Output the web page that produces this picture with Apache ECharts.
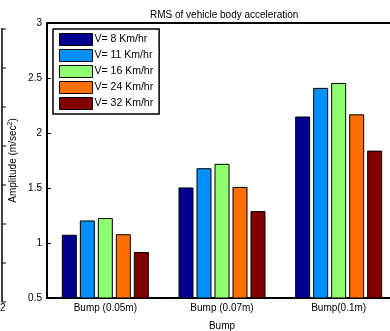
<!DOCTYPE html>
<html>
<head>
<meta charset="utf-8">
<script src="https://cdn.jsdelivr.net/npm/echarts@6/dist/echarts.min.js"></script>
<style>
html,body{margin:0;padding:0;background:#fff;}
#chart{width:390px;height:331px;}
</style>
</head>
<body>
<div id="chart"></div>
<script>
// categories and series
var bumps = ['Bump (0.05m)', 'Bump (0.07m)', 'Bump(0.1m)'];
var speeds = ['V= 8 Km/hr', 'V= 11 Km/hr', 'V= 16 Km/hr', 'V= 24 Km/hr', 'V= 32 Km/hr'];
var v8  = [1.075, 1.505, 2.15];
var v11 = [1.205, 1.68, 2.41];
var v16 = [1.227, 1.72, 2.455];
var v24 = [1.08, 1.51, 2.17];
var v32 = [0.918, 1.29, 1.84];
var yTicks = [0.5, 1, 1.5, 2, 2.5, 3];

var colorList = ['#00008f', '#008fff', '#8fff6f', '#ff6f00', '#800000'];
var font = 'Liberation Sans, Arial, sans-serif';

function initChart(){
	let myChart = echarts.init(document.getElementById('chart'));
	let values = [v8, v11, v16, v24, v32];
	let series = [];
	speeds.forEach(function(name, i){
		series.push({
			name: name,
			type: 'bar',
			data: values[i],
			barWidth: 15,
			barGap: '20%',
			itemStyle: {
				color: colorList[i],
				borderColor: '#000',
				borderWidth: 1
			}
		});
	});

	// bit of the neighbouring figure's axis, cut off at the left edge
	let edge = [{
		type: 'line',
		shape: {x1: 2, y1: 28, x2: 2, y2: 302},
		style: {stroke: '#000', lineWidth: 1.5}
	}];
	for (var t = 0; t < 8; t++) {
		let y = 29 + t * 39;
		edge.push({
			type: 'line',
			shape: {x1: 2, y1: y, x2: 6, y2: y},
			style: {stroke: '#000', lineWidth: 1}
		});
	}
	edge.push({
		type: 'text', left: 0, top: 303,
		style: {text: '2', font: '10px ' + font, fill: '#000'}
	});

	let option = {
		animation: false,
		backgroundColor: '#fff',
		textStyle: {fontFamily: font},
		title: {
			text: 'RMS of vehicle body acceleration',
			left: 145,
			top: 5,
			textStyle: {fontSize: 10, fontWeight: 'normal', color: '#000', fontFamily: font}
		},
		legend: {
			data: speeds,
			orient: 'vertical',
			left: 53,
			top: 29,
			padding: [4, 6, 4, 6],
			itemWidth: 33,
			itemHeight: 12,
			itemGap: 3,
			icon: 'rect',
			backgroundColor: '#fff',
			borderColor: '#000',
			borderWidth: 1.5,
			itemStyle: {borderColor: '#000', borderWidth: 1},
			textStyle: {fontSize: 10.5, color: '#000', fontFamily: font, padding: [0, 0, 0, -3]}
		},
		grid: {
			left: 47,
			right: -7,
			top: 23,
			bottom: 33,
			containLabel: false,
			outerBoundsMode: 'none'
		},
		xAxis: [{
			type: 'category',
			data: bumps,
			name: 'Bump',
			nameLocation: 'middle',
			nameGap: 23,
			nameMoveOverlap: false,
			nameTextStyle: {fontSize: 10, color: '#000'},
			axisLine: {lineStyle: {color: '#000', width: 2}},
			axisTick: {inside: true, length: 4, alignWithLabel: true, lineStyle: {color: '#000'}},
			axisLabel: {fontSize: 10, color: '#000', margin: 5}
		}, {
			type: 'category',
			data: bumps,
			position: 'top',
			axisLine: {lineStyle: {color: '#000', width: 2}},
			axisTick: {inside: true, length: 4, alignWithLabel: true, lineStyle: {color: '#000'}},
			axisLabel: {show: false}
		}],
		yAxis: [{
			type: 'value',
			min: yTicks[0],
			max: yTicks[yTicks.length - 1],
			interval: 0.5,
			name: 'Amplitude (m/sec{sup|2})',
			nameLocation: 'middle',
			nameGap: 27,
			nameMoveOverlap: false,
			nameTextStyle: {
				fontSize: 10,
				color: '#000',
				rich: {sup: {fontSize: 7, color: '#000', padding: [0, 0, 6, 0]}}
			},
			axisLine: {show: true, lineStyle: {color: '#000', width: 2}},
			axisTick: {show: true, inside: true, length: 4, lineStyle: {color: '#000'}},
			axisLabel: {fontSize: 10, color: '#000', margin: 5},
			splitLine: {show: false}
		}],
		series: series,
		graphic: edge
	};

	myChart.setOption(option);
	return myChart;
}
initChart();
</script>
</body>
</html>
